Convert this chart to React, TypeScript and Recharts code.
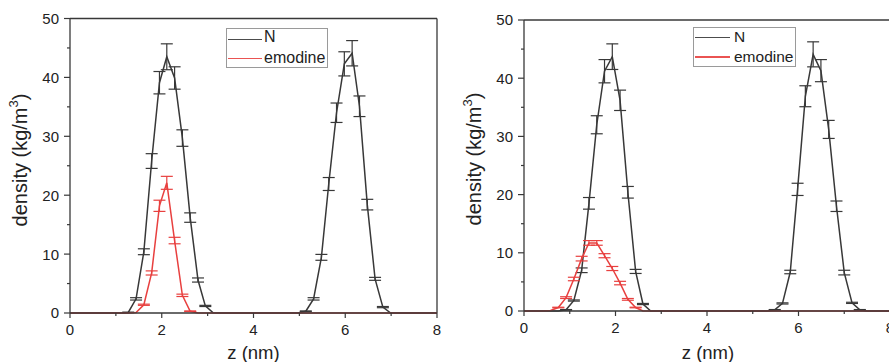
import React from 'react';
import { LineChart, Line, XAxis, YAxis, ErrorBar, ReferenceLine, Legend } from 'recharts';

const FONT = 'Arial, "Liberation Sans", Helvetica, sans-serif';
const AXIS = '#383838';
const TEXT = '#222222';
const BLACK = '#383838';
const RED = '#e8403f';

const seriesNames = ['N', 'emodine'];
const xTicks = [0, 1, 2, 3, 4, 5, 6, 7, 8];
const yTicks = [0, 5, 10, 15, 20, 25, 30, 35, 40, 45, 50];

// left panel, bin centres in nm
const zLeft = [
  -0.07, 0.1, 0.27, 0.43, 0.6, 0.77, 0.94, 1.11, 1.27, 1.44,
  1.61, 1.78, 1.95, 2.11, 2.28, 2.45, 2.62, 2.79, 2.95, 3.12,
  3.29, 3.46, 3.63, 3.79, 3.96, 4.13, 4.3, 4.47, 4.63, 4.8,
  4.97, 5.14, 5.31, 5.48, 5.64, 5.81, 5.98, 6.15, 6.31, 6.48,
  6.65, 6.82, 6.99, 7.15, 7.32, 7.49, 7.66, 7.83, 7.99, 8.16,
];
const nLeft = [
  0, 0, 0, 0, 0, 0, 0, 0, 0.1, 2.4,
  10.4, 25.8, 39.1, 43.5, 39.9, 29.7, 16.2, 5.6, 1.2, 0.05,
  0, 0, 0, 0, 0, 0, 0, 0, 0, 0,
  0, 0.3, 2.4, 9.45, 21.9, 34.0, 42.3, 44.1, 35.1, 18.4,
  5.8, 1.0, 0, 0, 0, 0, 0, 0, 0, 0,
];
const nLeftErr = [
  0, 0, 0, 0, 0, 0, 0, 0, 0.05, 0.2,
  0.5, 1.25, 1.9, 2.2, 1.9, 1.4, 0.8, 0.35, 0.1, 0,
  0, 0, 0, 0, 0, 0, 0, 0, 0, 0,
  0, 0.05, 0.2, 0.5, 1.1, 1.65, 2.05, 2.15, 1.75, 0.9,
  0.25, 0.1, 0, 0, 0, 0, 0, 0, 0, 0,
];
const emoLeft = [
  0, 0, 0, 0, 0, 0, 0, 0, 0, 0.1,
  1.4, 6.8, 18.2, 22.1, 12.3, 3.0, 0.3, 0, 0, 0,
  0, 0, 0, 0, 0, 0, 0, 0, 0, 0,
  0, 0, 0, 0, 0, 0, 0, 0, 0, 0,
  0, 0, 0, 0, 0, 0, 0, 0, 0, 0,
];
const emoLeftErr = [
  0, 0, 0, 0, 0, 0, 0, 0, 0, 0,
  0.1, 0.35, 0.95, 1.1, 0.55, 0.2, 0.05, 0, 0, 0,
  0, 0, 0, 0, 0, 0, 0, 0, 0, 0,
  0, 0, 0, 0, 0, 0, 0, 0, 0, 0,
  0, 0, 0, 0, 0, 0, 0, 0, 0, 0,
];

// right panel
const zRight = [
  -0.1, 0.07, 0.24, 0.41, 0.58, 0.75, 0.92, 1.09, 1.26, 1.42,
  1.59, 1.76, 1.93, 2.1, 2.27, 2.44, 2.6, 2.77, 2.94, 3.11,
  3.28, 3.45, 3.62, 3.79, 3.96, 4.13, 4.29, 4.46, 4.63, 4.8,
  4.97, 5.14, 5.31, 5.48, 5.65, 5.82, 5.98, 6.15, 6.32, 6.49,
  6.66, 6.83, 7.0, 7.17, 7.34, 7.51, 7.67, 7.84, 8.01,
];
const nRight = [
  0, 0, 0, 0, 0, 0, 0.2, 1.8, 7.0, 18.5,
  32.0, 41.2, 43.7, 36.2, 20.4, 6.8, 1.2, 0, 0, 0,
  0, 0, 0, 0, 0, 0, 0, 0, 0, 0,
  0, 0, 0, 0.2, 1.3, 6.7, 20.9, 36.9, 44.1, 41.3,
  31.2, 18.0, 6.6, 1.4, 0.2, 0, 0, 0, 0,
];
const nRightErr = [
  0, 0, 0, 0, 0, 0, 0.05, 0.1, 0.4, 1.0,
  1.55, 2.0, 2.2, 1.75, 1.0, 0.35, 0.1, 0, 0, 0,
  0, 0, 0, 0, 0, 0, 0, 0, 0, 0,
  0, 0, 0, 0.05, 0.1, 0.3, 1.05, 1.8, 2.15, 1.9,
  1.55, 0.9, 0.4, 0.1, 0.05, 0, 0, 0, 0,
];
const emoRight = [
  0, 0, 0, 0, 0.1, 0.6, 2.3, 5.5, 9.0, 11.7,
  11.7, 9.5, 7.3, 4.8, 2.0, 0.6, 0, 0, 0, 0,
  0, 0, 0, 0, 0, 0, 0, 0, 0, 0,
  0, 0, 0, 0, 0, 0, 0, 0, 0, 0,
  0, 0, 0, 0, 0, 0, 0, 0, 0,
];
const emoRightErr = [
  0, 0, 0, 0, 0, 0.05, 0.15, 0.3, 0.4, 0.4,
  0.4, 0.35, 0.35, 0.3, 0.15, 0.05, 0, 0, 0, 0,
  0, 0, 0, 0, 0, 0, 0, 0, 0, 0,
  0, 0, 0, 0, 0, 0, 0, 0, 0, 0,
  0, 0, 0, 0, 0, 0, 0, 0, 0,
];

const buildRows = (z: number[], n: number[], nErr: number[], e: number[], eErr: number[]) =>
  z.map((zv, i) => ({ z: zv, n: n[i], nErr: nErr[i], emo: e[i], emoErr: eErr[i] }));

function YTick(props: any) {
  const { x, y, payload } = props;
  const major = payload.value % 10 === 0;
  return (
    <g>
      <line x1={x - (major ? 6 : 3)} x2={x} y1={y} y2={y} stroke={AXIS} strokeWidth={1.2} />
      {major && (
        <text x={x - 11} y={y} dy="0.36em" textAnchor="end" fontSize={15} fontFamily={FONT} fill={TEXT}>
          {payload.value}
        </text>
      )}
    </g>
  );
}

function XTick(props: any) {
  const { x, y, payload } = props;
  const major = payload.value % 2 === 0;
  return (
    <g>
      <line x1={x} x2={x} y1={y} y2={y + (major ? 5 : 3)} stroke={AXIS} strokeWidth={1.2} />
      {major && (
        <text x={x} y={y + 22} textAnchor="middle" fontSize={15} fontFamily={FONT} fill={TEXT}>
          {payload.value}
        </text>
      )}
    </g>
  );
}

type LegendCfg = {
  left: number;
  top: number;
  w: number;
  h: number;
  font: number;
  lineX: number;
  lineW: number;
  textX: number;
  lineY: number[];
  textY: number[];
};

function LegendBox({ payload, cfg }: { payload?: any[]; cfg: LegendCfg }) {
  return (
    <div
      style={{
        position: 'relative',
        width: cfg.w,
        height: cfg.h,
        boxSizing: 'border-box',
        border: '1px solid #9a9a9a',
        background: '#fff',
        fontFamily: FONT,
        fontSize: cfg.font,
        color: TEXT,
      }}
    >
      {(payload ?? []).map((p: any, i: number) => (
        <React.Fragment key={p.value}>
          <div
            style={{
              position: 'absolute',
              left: cfg.lineX,
              top: cfg.lineY[i],
              width: cfg.lineW,
              height: 1.6,
              background: p.color,
              opacity: 0.9,
            }}
          />
          <span
            style={{
              position: 'absolute',
              left: cfg.textX,
              top: cfg.textY[i],
              lineHeight: `${cfg.font}px`,
              whiteSpace: 'nowrap',
            }}
          >
            {p.value}
          </span>
        </React.Fragment>
      ))}
    </div>
  );
}

type PanelProps = {
  data: any[];
  width: number;
  margin: { top: number; right: number; bottom: number; left: number };
  yAxisWidth: number;
  yTitle: { x: number; y: number };
  xTitle: { x: number; y: number };
  legend: LegendCfg;
};

function Panel({ data, width, margin, yAxisWidth, yTitle, xTitle, legend }: PanelProps) {
  return (
    <LineChart width={width} height={362} data={data} margin={margin}>
      <XAxis
        dataKey="z"
        type="number"
        domain={[0, 8]}
        allowDataOverflow
        ticks={xTicks}
        interval={0}
        height={30}
        tickSize={0}
        tickMargin={0}
        tickLine={false}
        tick={<XTick />}
        axisLine={{ stroke: AXIS, strokeWidth: 1.3 }}
        label={{
          content: () => (
            <text x={xTitle.x} y={xTitle.y} textAnchor="middle" fontSize={18.5} fontFamily={FONT} fill={TEXT}>
              z (nm)
            </text>
          ),
        }}
      />
      <YAxis
        type="number"
        domain={[0, 50]}
        ticks={yTicks}
        interval={0}
        width={yAxisWidth}
        tickSize={0}
        tickMargin={0}
        tickLine={false}
        tick={<YTick />}
        axisLine={{ stroke: AXIS, strokeWidth: 1.3 }}
        label={{
          content: () => (
            <text
              x={yTitle.x}
              y={yTitle.y}
              transform={`rotate(-90 ${yTitle.x} ${yTitle.y})`}
              textAnchor="middle"
              dominantBaseline="central"
              fontSize={20}
              fontFamily={FONT}
              fill={TEXT}
            >
              density (kg/m<tspan dy={-7} fontSize={13}>3</tspan>
              <tspan dy={7}>)</tspan>
            </text>
          ),
        }}
      />
      <ReferenceLine y={50} stroke={AXIS} strokeWidth={1.3} />
      <ReferenceLine x={8} stroke={AXIS} strokeWidth={1.3} />
      <Legend
        layout="vertical"
        align="center"
        verticalAlign="middle"
        wrapperStyle={{ left: legend.left, top: legend.top, width: legend.w, height: legend.h }}
        content={(props: any) => <LegendBox payload={props.payload} cfg={legend} />}
      />
      <Line
        dataKey="n"
        name={seriesNames[0]}
        stroke={BLACK}
        strokeWidth={1.5}
        dot={false}
        isAnimationActive={false}
      >
        <ErrorBar dataKey="nErr" width={6} stroke={BLACK} strokeWidth={1.2} isAnimationActive={false} />
      </Line>
      <Line
        dataKey="emo"
        name={seriesNames[1]}
        stroke={RED}
        strokeWidth={1.5}
        dot={false}
        isAnimationActive={false}
      >
        <ErrorBar dataKey="emoErr" width={6} stroke={RED} strokeWidth={1.2} isAnimationActive={false} />
      </Line>
    </LineChart>
  );
}

export default function App() {
  const leftRows = buildRows(zLeft, nLeft, nLeftErr, emoLeft, emoLeftErr);
  const rightRows = buildRows(zRight, nRight, nRightErr, emoRight, emoRightErr);

  return (
    <div
      style={{
        position: 'absolute',
        left: 0,
        top: 0,
        width: 889,
        height: 362,
        overflow: 'hidden',
        background: '#fff',
      }}
    >
      <div style={{ position: 'absolute', left: 0, top: 0 }}>
        <Panel
          data={leftRows}
          width={450}
          margin={{ top: 18.5, right: 13, bottom: 19, left: 0 }}
          yAxisWidth={70}
          yTitle={{ x: 20, y: 160 }}
          xTitle={{ x: 253.5, y: 359 }}
          legend={{
            left: 226,
            top: 28,
            w: 102,
            h: 40,
            font: 16,
            lineX: 1,
            lineW: 34,
            textX: 37,
            lineY: [9.5, 28.5],
            textY: [0, 20.5],
          }}
        />
      </div>
      <div style={{ position: 'absolute', left: 450, top: 0 }}>
        <Panel
          data={rightRows}
          width={445}
          margin={{ top: 20, right: 5, bottom: 21, left: 0 }}
          yAxisWidth={74}
          yTitle={{ x: 24, y: 159 }}
          xTitle={{ x: 258, y: 359 }}
          legend={{
            left: 243,
            top: 27,
            w: 103,
            h: 40,
            font: 15.5,
            lineX: 1,
            lineW: 35,
            textX: 40,
            lineY: [8.5, 28],
            textY: [1, 21],
          }}
        />
      </div>
    </div>
  );
}
